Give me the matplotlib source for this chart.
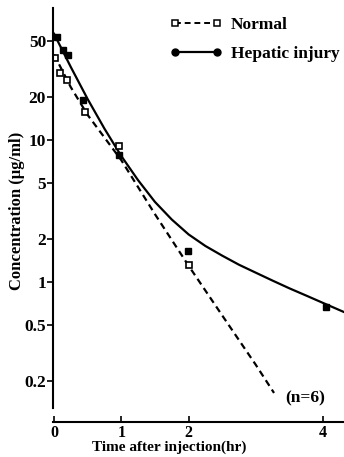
import matplotlib
matplotlib.use("Agg")
import matplotlib.pyplot as plt
import numpy as np

t_normal = [0.02, 0.09, 0.19, 0.46, 0.96, 2.0]
c_normal = [37.8, 29.6, 26.5, 15.7, 9.1, 1.32]

t_hepatic = [0.05, 0.13, 0.21, 0.43, 0.96, 1.99, 4.04]
c_hepatic = [53.0, 43.0, 39.7, 19.1, 7.8, 1.65, 0.66]

# ---- fitted curves ----
t_fit_normal = [0.0, 0.25, 0.5, 1.0, 1.5, 2.0, 2.5, 3.0, 3.27]
c_fit_normal = [40.0, 23.5, 15.0, 7.2, 3.0, 1.3, 0.58, 0.26, 0.165]

t_fit_hepatic = [0.0, 0.25, 0.5, 0.75, 1.0, 1.25, 1.5, 1.75, 2.0, 2.25, 2.5,
                 2.75, 3.0, 3.25, 3.5, 3.75, 4.0, 4.32]
c_fit_hepatic = [56.0, 32.6, 19.4, 12.0, 7.7, 5.2, 3.66, 2.75, 2.16, 1.79, 1.53,
                 1.32, 1.16, 1.02, 0.90, 0.80, 0.71, 0.61]

yticks = [0.2, 0.5, 1, 2, 5, 10, 20, 50]
ytick_labels = ["0.2", "0.5", "1", "2", "5", "10", "20", "50"]
xticks = [0, 1, 2, 4]

plt.rcParams['font.family'] = 'serif'
plt.rcParams['font.serif'] = ['Liberation Serif', 'DejaVu Serif']
plt.rcParams['font.weight'] = 'bold'

fig = plt.figure(figsize=(3.44, 4.57), dpi=100)
ax = fig.add_axes([53/344, 1-422/457, 291/344, 414/457])

# curves
ax.plot(t_fit_normal, c_fit_normal, '--', color='k', lw=1.6, dashes=(3, 2))
ax.plot(t_fit_hepatic, c_fit_hepatic, '-', color='k', lw=1.6)

# points
ax.plot(t_normal, c_normal, 's', mfc='white', mec='k', mew=1.2, ms=4.5, ls='none')
ax.plot(t_hepatic, c_hepatic, 's', color='k', ms=5, ls='none')

# legend handles
h1, = ax.plot([], [], '--', color='k', lw=1.4, dashes=(3, 2), marker='s',
              mfc='white', mec='k', mew=1.1, ms=4)
h2, = ax.plot([], [], '-', color='k', lw=1.6, marker='o', ms=5)
fig.legend([h1, h2], ['Normal', 'Hepatic injury'], loc='upper left',
           bbox_to_anchor=(170/344, 1-17/457), frameon=False, numpoints=2,
           handlelength=3.0, handletextpad=0.5, labelspacing=0.75,
           borderpad=0, borderaxespad=0, fontsize=12.5)

ax.set_yscale('log')
ax.set_xlim(-0.015, 4.31)
ax.set_ylim(0.103, 85)
ax.set_yticks(yticks)
ax.set_yticklabels(ytick_labels)
ax.minorticks_off()
ax.set_xticks(xticks)
ax.set_xticklabels([str(x) for x in xticks])

ax.tick_params(axis='y', direction='out', length=4, width=1.2, pad=1, labelsize=12.5)
ax.tick_params(axis='x', direction='in', length=4, width=1.2, pad=2, labelsize=11.5)

for s in ['top', 'right']:
    ax.spines[s].set_visible(False)
ax.spines['left'].set_linewidth(1.5)
ax.spines['bottom'].set_linewidth(1.5)
ax.spines['left'].set_bounds(0.13, 85)

ax.set_xlabel('Time after injection(hr)', fontsize=11, fontweight='bold')
ax.xaxis.label.set_va('center')
ax.xaxis.set_label_coords(0.40, -0.062)
ax.set_ylabel('Concentration (μg/ml)', fontsize=12, fontweight='bold')
ax.yaxis.set_label_coords(-0.095, 0.51)

ax.text(3.73, 0.152, '(n=6)', ha='center', va='center', fontsize=12.5, fontweight='bold')

fig.savefig('out.png', dpi=100)
